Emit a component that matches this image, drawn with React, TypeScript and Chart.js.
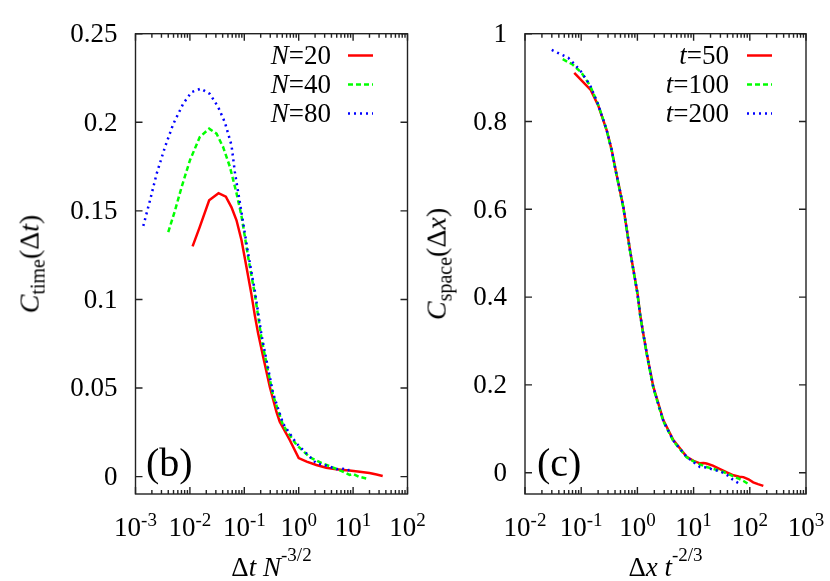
import React, { useEffect, useRef, useState } from 'react';
import { Chart, registerables } from 'chart.js';

Chart.register(...registerables);

const FONT = 'serif';
const BASE_RATIO = 0.8375; // baseline offset / font size at line-height 1

// ---------- Panel (b): temporal correlation ----------
const timeXTicks = [1e-3, 1e-2, 1e-1, 1, 10, 100];
const timeYTicks = [0, 0.05, 0.1, 0.15, 0.2, 0.25];

const n20X = [0.0112, 0.0152, 0.0226, 0.0336, 0.0458, 0.0582, 0.0719, 0.0889, 0.110, 0.135, 0.156, 0.179, 0.221, 0.294, 0.39, 0.448, 0.684, 1.0, 1.4, 2.11, 3.2, 4.9, 6.5, 8.6, 13.2, 20, 27, 35];
const n20Y = [0.130, 0.141, 0.156, 0.160, 0.158, 0.152, 0.1447, 0.1334, 0.118, 0.103, 0.091, 0.081, 0.068, 0.0507, 0.0365, 0.031, 0.0207, 0.0105, 0.0085, 0.0066, 0.005, 0.0042, 0.0038, 0.0034, 0.0028, 0.002, 0.0012, 0.0004];

const n40X = [0.0040, 0.0053, 0.00705, 0.0100, 0.0152, 0.0226, 0.0309, 0.0408, 0.0542, 0.0719, 0.0889, 0.1175, 0.156, 0.207, 0.255, 0.338, 0.515, 0.908, 1.59, 2.5, 4.0, 6.3, 8.6, 10, 12.6, 17.4];
const n40Y = [0.138, 0.150, 0.1635, 0.1785, 0.1917, 0.1964, 0.1936, 0.186, 0.175, 0.160, 0.147, 0.124, 0.103, 0.078, 0.064, 0.046, 0.029, 0.018, 0.011, 0.008, 0.0055, 0.003, 0.001, 0.0015, 0.0, -0.001];

const n80X = [0.00139, 0.00185, 0.00245, 0.00348, 0.00494, 0.00753, 0.0107, 0.0159, 0.0233, 0.0331, 0.0439, 0.0582, 0.067, 0.0889, 0.1175, 0.156, 0.207, 0.255, 0.338, 0.515, 0.908, 1.59, 2.11, 3.0, 3.71, 5.0, 6.2, 7.5, 8.6];
const n80Y = [0.1415, 0.156, 0.171, 0.186, 0.199, 0.2105, 0.217, 0.219, 0.216, 0.2086, 0.200, 0.187, 0.172, 0.149, 0.126, 0.105, 0.080, 0.066, 0.047, 0.030, 0.0188, 0.0113, 0.0075, 0.0065, 0.0056, 0.0042, 0.0048, 0.0035, 0.0038];

// ---------- Panel (c): spatial correlation ----------
const spaceXTicks = [1e-2, 1e-1, 1, 10, 100, 1000];
const spaceYTicks = [0, 0.2, 0.4, 0.6, 0.8, 1];

const t50X = [0.0753, 0.1476, 0.2014, 0.2844, 0.349, 0.399, 0.561, 0.738, 1.0, 1.12, 1.26, 1.466, 1.919, 2.89, 4.36, 7.53, 10, 13.0, 15, 17.0, 22, 29.5, 40, 51.3, 65, 76.9, 95, 115, 140, 174];
const t50Y = [0.911, 0.872, 0.836, 0.78, 0.735, 0.697, 0.606, 0.507, 0.41, 0.36, 0.32, 0.272, 0.196, 0.120, 0.0745, 0.0364, 0.027, 0.0214, 0.022, 0.021, 0.016, 0.008, 0.0, -0.006, -0.009, -0.010, -0.015, -0.022, -0.026, -0.03];

const t100X = [0.0469, 0.07, 0.1, 0.1435, 0.2014, 0.2844, 0.349, 0.399, 0.561, 0.738, 1.0, 1.12, 1.26, 1.466, 1.919, 2.89, 4.36, 7.53, 10, 13, 17, 22, 30, 40, 50, 65, 80, 100];
const t100Y = [0.942, 0.930, 0.912, 0.882, 0.838, 0.78, 0.733, 0.695, 0.604, 0.505, 0.408, 0.358, 0.318, 0.27, 0.193, 0.117, 0.072, 0.035, 0.026, 0.019, 0.013, 0.009, 0.004, -0.002, -0.008, -0.014, -0.02, -0.028];

const t200X = [0.0299, 0.059, 0.0953, 0.1435, 0.2014, 0.2844, 0.349, 0.399, 0.561, 0.738, 1.0, 1.12, 1.26, 1.466, 1.919, 2.89, 4.36, 7.53, 10, 13, 17, 22, 30, 40, 50, 63];
const t200Y = [0.963, 0.945, 0.917, 0.883, 0.838, 0.78, 0.735, 0.697, 0.606, 0.507, 0.41, 0.36, 0.32, 0.272, 0.195, 0.118, 0.073, 0.036, 0.024, 0.013, 0.012, 0.007, 0.003, -0.006, -0.016, -0.024];

const RED = '#ff0000';
const GREEN = '#00ff00';
const BLUE = '#0000ff';

type Seg = { t: string; it?: boolean; s: number; dy?: number };

type LabelProps = {
  segs: Seg[];
  size: number;
  x: number;
  y: number;
  align: 'left' | 'center' | 'right';
  rotate?: boolean;
};

function Label({ segs, size, x, y, align, rotate }: LabelProps) {
  const off = BASE_RATIO * size;
  const common: React.CSSProperties = {
    position: 'absolute',
    fontFamily: FONT,
    fontSize: size,
    lineHeight: `${size}px`,
    whiteSpace: 'pre',
    color: '#000',
    pointerEvents: 'none',
  };
  let style: React.CSSProperties;
  if (rotate) {
    style = {
      ...common,
      left: x,
      top: y,
      transformOrigin: '0 0',
      transform: `rotate(-90deg) translate(-50%, ${-off}px)`,
    };
  } else {
    const tx = align === 'left' ? '0' : align === 'center' ? '-50%' : '-100%';
    style = { ...common, left: x, top: y - off, transform: `translateX(${tx})` };
  }
  return (
    <div style={style}>
      {segs.map((sg, i) => (
        <span
          key={i}
          style={{
            fontStyle: sg.it ? 'italic' : 'normal',
            fontSize: sg.s,
            position: 'relative',
            top: sg.dy || 0,
          }}
        >
          {sg.t}
        </span>
      ))}
    </div>
  );
}

type Series = { label: Seg[]; x: number[]; y: number[]; color: string; dash: number[] };

type PanelProps = {
  left: number;
  width: number;
  height: number;
  area: { left: number; right: number; top: number; bottom: number };
  xMin: number;
  xMax: number;
  yMin: number;
  yMax: number;
  xTicks: number[];
  yTicks: number[];
  series: Series[];
  xTitle: Seg[];
  yTitle: Seg[];
  yTitleX: number;
  legendTextRight: number;
  legendSample: [number, number];
  tag: string;
  tagX: number;
};

type Pos = { xs: number[]; ys: number[]; a: { left: number; right: number; top: number; bottom: number } };

function Panel(p: PanelProps) {
  const ref = useRef<HTMLCanvasElement | null>(null);
  const [pos, setPos] = useState<Pos | null>(null);

  useEffect(() => {
    const canvas = ref.current;
    if (!canvas) return;

    const decor = {
      id: 'decor',
      afterDraw(ch: any) {
        const ctx: CanvasRenderingContext2D = ch.ctx;
        const a = ch.chartArea;
        const xs = ch.scales.x;
        const ys = ch.scales.y;
        ctx.save();
        ctx.setLineDash([]);
        ctx.strokeStyle = '#222';
        ctx.lineWidth = 1.4;
        ctx.strokeRect(a.left, a.top, a.right - a.left, a.bottom - a.top);
        ctx.beginPath();
        p.yTicks.forEach((v) => {
          const py = ys.getPixelForValue(v);
          ctx.moveTo(a.left, py);
          ctx.lineTo(a.left + 7, py);
          ctx.moveTo(a.right, py);
          ctx.lineTo(a.right - 7, py);
        });
        const d0 = Math.round(Math.log10(p.xMin));
        const d1 = Math.round(Math.log10(p.xMax));
        for (let d = d0; d <= d1; d++) {
          for (let k = 1; k <= 9; k++) {
            const v = k * Math.pow(10, d);
            if (v < p.xMin * 0.999 || v > p.xMax * 1.001) continue;
            const px = xs.getPixelForValue(v);
            const len = k === 1 ? 7 : 4;
            ctx.moveTo(px, a.bottom);
            ctx.lineTo(px, a.bottom - len);
            ctx.moveTo(px, a.top);
            ctx.lineTo(px, a.top + len);
          }
        }
        ctx.stroke();
        ctx.restore();

        p.series.forEach((s, i) => {
          const yy = 65 + i * 29 - 9.5;
          ctx.save();
          ctx.strokeStyle = s.color;
          ctx.lineWidth = 2.5;
          ctx.setLineDash(s.dash);
          ctx.beginPath();
          ctx.moveTo(p.legendSample[0], yy);
          ctx.lineTo(p.legendSample[1], yy);
          ctx.stroke();
          ctx.restore();
        });
      },
    };

    const chart = new Chart(canvas, {
      type: 'line',
      data: {
        datasets: p.series.map((s, i) => ({
          label: s.label.map((g) => g.t).join(''),
          data: s.x.map((x, j) => ({ x, y: s.y[j] })),
          borderColor: s.color,
          backgroundColor: s.color,
          borderWidth: 2.5,
          borderDash: s.dash,
          pointRadius: 0,
          fill: false,
          tension: 0,
          order: p.series.length - i,
        })),
      },
      options: {
        responsive: false,
        maintainAspectRatio: false,
        animation: false,
        devicePixelRatio: 1,
        layout: {
          padding: { left: 0, right: p.width - p.area.right, top: p.area.top, bottom: 0 },
        },
        plugins: { legend: { display: false }, tooltip: { enabled: false } },
        scales: {
          x: {
            type: 'logarithmic',
            min: p.xMin,
            max: p.xMax,
            grid: { display: false, drawTicks: false },
            border: { display: false },
            ticks: { display: false },
            afterBuildTicks: (s: any) => {
              s.ticks = p.xTicks.map((v) => ({ value: v }));
            },
            afterFit: (s: any) => {
              s.height = p.height - p.area.bottom;
            },
          },
          y: {
            type: 'linear',
            min: p.yMin,
            max: p.yMax,
            grid: { display: false, drawTicks: false },
            border: { display: false },
            ticks: { display: false },
            afterBuildTicks: (s: any) => {
              s.ticks = p.yTicks.map((v) => ({ value: v }));
            },
            afterFit: (s: any) => {
              s.width = p.area.left;
            },
          },
        },
      } as any,
      plugins: [decor],
    });

    const xs: any = chart.scales.x;
    const ys: any = chart.scales.y;
    setPos({
      xs: p.xTicks.map((v) => xs.getPixelForValue(v)),
      ys: p.yTicks.map((v) => ys.getPixelForValue(v)),
      a: { left: chart.chartArea.left, right: chart.chartArea.right, top: chart.chartArea.top, bottom: chart.chartArea.bottom },
    });

    return () => chart.destroy();
  }, []);

  return (
    <div style={{ position: 'absolute', left: p.left, top: 0, width: p.width, height: p.height }}>
      <canvas
        ref={ref}
        width={p.width}
        height={p.height}
        style={{ position: 'absolute', left: 0, top: 0, width: p.width, height: p.height, display: 'block' }}
      />
      {pos && (
        <>
          {p.yTicks.map((v, i) => (
            <Label
              key={'y' + i}
              segs={[{ t: String(v), s: 27 }]}
              size={27}
              x={pos.a.left - 18}
              y={pos.ys[i] + 9}
              align="right"
            />
          ))}
          {p.xTicks.map((v, i) => (
            <Label
              key={'x' + i}
              segs={[
                { t: '10', s: 27 },
                { t: String(Math.round(Math.log10(v))), s: 19, dy: -10 },
              ]}
              size={27}
              x={pos.xs[i]}
              y={pos.a.bottom + 43}
              align="center"
            />
          ))}
          <Label segs={p.xTitle} size={27} x={(pos.a.left + pos.a.right) / 2} y={p.height - 4} align="center" />
          <Label segs={p.yTitle} size={28} x={p.yTitleX} y={(pos.a.top + pos.a.bottom) / 2} align="center" rotate />
          {p.series.map((s, i) => (
            <Label key={'l' + i} segs={s.label} size={27} x={p.legendTextRight} y={65 + i * 29} align="right" />
          ))}
          <Label segs={[{ t: p.tag, s: 40 }]} size={40} x={p.tagX} y={476} align="left" />
        </>
      )}
    </div>
  );
}

export default function App() {
  const timeSeries: Series[] = [
    { label: [{ t: 'N', it: true, s: 27 }, { t: '=20', s: 27 }], x: n20X, y: n20Y, color: RED, dash: [] },
    { label: [{ t: 'N', it: true, s: 27 }, { t: '=40', s: 27 }], x: n40X, y: n40Y, color: GREEN, dash: [5, 3] },
    { label: [{ t: 'N', it: true, s: 27 }, { t: '=80', s: 27 }], x: n80X, y: n80Y, color: BLUE, dash: [2, 4] },
  ];
  const spaceSeries: Series[] = [
    { label: [{ t: 't', it: true, s: 27 }, { t: '=50', s: 27 }], x: t50X, y: t50Y, color: RED, dash: [] },
    { label: [{ t: 't', it: true, s: 27 }, { t: '=100', s: 27 }], x: t100X, y: t100Y, color: GREEN, dash: [5, 3] },
    { label: [{ t: 't', it: true, s: 27 }, { t: '=200', s: 27 }], x: t200X, y: t200Y, color: BLUE, dash: [2, 4] },
  ];

  return (
    <div style={{ position: 'absolute', left: 0, top: 0, width: 830, height: 581, background: '#fff' }}>
      <Panel
        left={0}
        width={440}
        height={581}
        area={{ left: 135.5, right: 407.5, top: 33.7, bottom: 494 }}
        xMin={1e-3}
        xMax={1e2}
        yMin={-0.0098}
        yMax={0.25}
        xTicks={timeXTicks}
        yTicks={timeYTicks}
        series={timeSeries}
        xTitle={[
          { t: 'Δ', s: 27 },
          { t: 't', it: true, s: 27 },
          { t: ' ', s: 27 },
          { t: 'N', it: true, s: 27 },
          { t: '-3/2', s: 19, dy: -15 },
        ]}
        yTitle={[
          { t: 'C', it: true, s: 28 },
          { t: 'time', s: 20, dy: 6 },
          { t: '(Δ', s: 28 },
          { t: 't', it: true, s: 28 },
          { t: ')', s: 28 },
        ]}
        yTitleX={39}
        legendTextRight={331}
        legendSample={[348, 373]}
        tag="(b)"
        tagX={146}
      />
      <Panel
        left={415}
        width={415}
        height={581}
        area={{ left: 110, right: 391, top: 33.7, bottom: 494 }}
        xMin={1e-2}
        xMax={1e3}
        yMin={-0.0485}
        yMax={1}
        xTicks={spaceXTicks}
        yTicks={spaceYTicks}
        series={spaceSeries}
        xTitle={[
          { t: 'Δ', s: 27 },
          { t: 'x', it: true, s: 27 },
          { t: ' ', s: 27 },
          { t: 't', it: true, s: 27 },
          { t: '-2/3', s: 19, dy: -15 },
        ]}
        yTitle={[
          { t: 'C', it: true, s: 28 },
          { t: 'space', s: 20, dy: 6 },
          { t: '(Δ', s: 28 },
          { t: 'x', it: true, s: 28 },
          { t: ')', s: 28 },
        ]}
        yTitleX={31}
        legendTextRight={314}
        legendSample={[332, 357]}
        tag="(c)"
        tagX={122}
      />
    </div>
  );
}
